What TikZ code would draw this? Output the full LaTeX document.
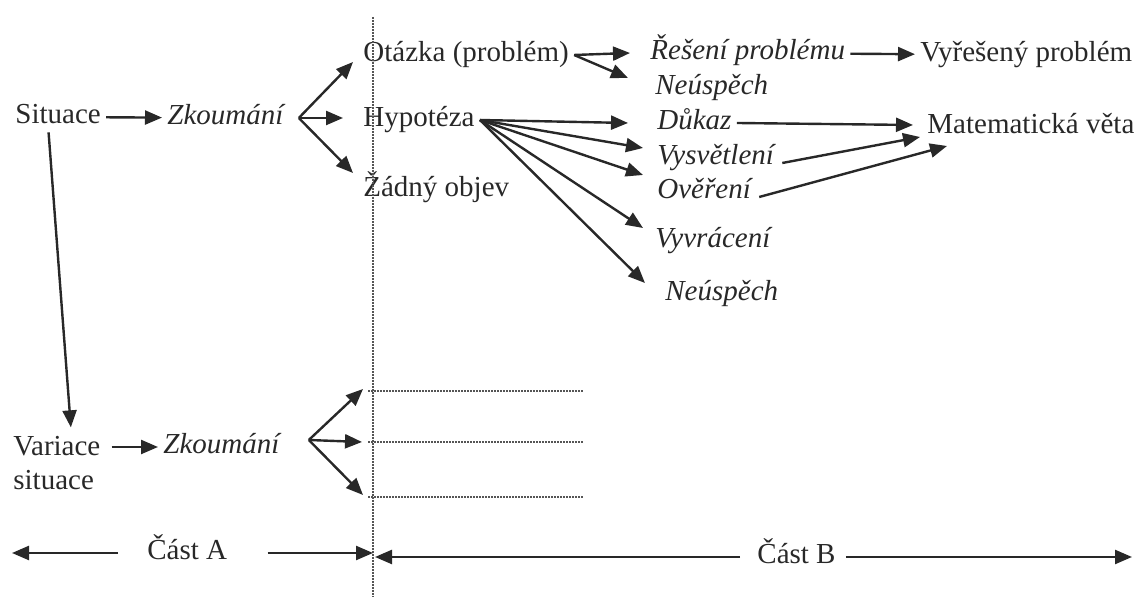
\documentclass[tikz,border=0pt]{standalone}
\usepackage{fontspec}
\setmainfont{Liberation Serif}
\usetikzlibrary{arrows.meta, positioning, calc}
\definecolor{InkGray}{RGB}{40, 40, 40}
\definecolor{DotGray}{RGB}{85, 85, 85}

\begin{document}
\begin{tikzpicture}[
    x=0.5pt, y=-0.5pt,
    txt/.style={font=\fontsize{14.5}{17}\selectfont, text=InkGray, inner xsep=2.5pt, inner ysep=0pt, anchor=west},
    lbl/.style={txt, text height=10pt, text depth=3pt},
    itl/.style={lbl, font=\fontsize{14.5}{17}\selectfont\itshape},
    arrow/.style={-{Triangle[length=8.5pt, width=7pt]}, line width=1.2pt, draw=InkGray},
    dotline/.style={draw=DotGray, line width=0.9pt, dash pattern=on 0.8pt off 0.7pt}
]
\useasboundingbox (0,0) rectangle (1141,597);

% part A
\node[lbl] (sit) at (10,117) {Situace};
\node[itl] (zk1) at (162,118) {Zkoumání};
\node[txt, align=left] (var) at (8,463.5) {Variace\\situace};
\node[itl] (zk2) at (158,447) {Zkoumání};

% part B
\node[lbl] (ot) at (358,55) {Otázka (problém)};
\node[lbl] (hyp) at (358,120) {Hypotéza};
\node[lbl] (zad) at (358,190) {Žádný objev};
\node[itl] (res) at (645,53) {Řešení problému};
\node[lbl] (vyr) at (915,55) {Vyřešený problém};
\node[itl] (neu1) at (650,88) {Neúspěch};
\node[itl] (dk) at (652,123) {Důkaz};
\node[itl] (vys) at (652,158) {Vysvětlení};
\node[itl] (ove) at (652,192) {Ověření};
\node[itl] (vyv) at (650,241) {Vyvrácení};
\node[itl] (neu2) at (660,294) {Neúspěch};
\node[lbl] (mat) at (922,127) {Matematická věta};

% bottom scale
\node[lbl] (castA) at (142,553) {Část A};
\node[lbl] (castB) at (752,557) {Část B};

\coordinate (divtop) at (373,17);
\coordinate (divbot) at (373,597);
\coordinate (divA) at (373,553);
\coordinate (divB) at (375,557);
\coordinate (endA) at (12,553);
\coordinate (endB) at (1132,557);
\coordinate (d1) at (368,391);
\coordinate (d2) at (368,442);
\coordinate (d3) at (368,497);
\coordinate (e1) at (583,391);
\coordinate (e2) at (583,442);
\coordinate (e3) at (583,497);

\draw[dotline] (divtop) -- (divbot);

\draw[arrow] (sit) -- (zk1);
\draw[arrow] ([shift={(10,0)}]zk1.east) -- ([shift={(-5,7)}]ot.west);
\draw[arrow] ([shift={(10,0)}]zk1.east) -- ([shift={(-15,-2)}]hyp.west);
\draw[arrow] ([shift={(10,0)}]zk1.east) -- ([shift={(-5,-17)}]zad.west);

\draw[arrow] (ot.east) -- ([shift={(-15,0)}]res.west);
\draw[arrow] (ot.east) -- ([shift={(-22,-10)}]neu1.west);
\draw[arrow] (res) -- (vyr);

\draw[arrow] (hyp.east) -- ([shift={(-24,0)}]dk.west);
\draw[arrow] (hyp.east) -- ([shift={(-9,-10)}]vys.west);
\draw[arrow] (hyp.east) -- ([shift={(-9,-17)}]ove.west);
\draw[arrow] (hyp.east) -- ([shift={(-7,-13)}]vyv.west);
\draw[arrow] (hyp.east) -- ([shift={(-15,-11)}]neu2.west);

\draw[arrow] (dk.east) -- ([shift={(-9,-2)}]mat.west);
\draw[arrow] ([shift={(3,5)}]vys.east) -- ([shift={(-2,10)}]mat.west);
\draw[arrow] ([shift={(3,5)}]ove.east) -- ([shift={(25,19)}]mat.west);

\draw[arrow] ([shift={(-9.5,2)}]sit.south) -- ([shift={(14,-9)}]var.north);
\draw[arrow] ([shift={(6,-16.5)}]var.east) -- (zk2.west);
\draw[arrow] ([shift={(24,-7)}]zk2.east) -- ([shift={(-5,-2)}]d1);
\draw[arrow] ([shift={(24,-7)}]zk2.east) -- ([shift={(-6,0)}]d2);
\draw[arrow] ([shift={(24,-7)}]zk2.east) -- ([shift={(-5,-2)}]d3);
\draw[dotline] (d1) -- (e1);
\draw[dotline] (d2) -- (e2);
\draw[dotline] (d3) -- (e3);

\draw[arrow] ([shift={(-24,0)}]castA.west) -- (endA);
\draw[arrow] ([shift={(35,0)}]castA.east) -- (divA);
\draw[arrow] ([shift={(-12,0)}]castB.west) -- (divB);
\draw[arrow] ([shift={(5,0)}]castB.east) -- (endB);
\end{tikzpicture}
\end{document}
